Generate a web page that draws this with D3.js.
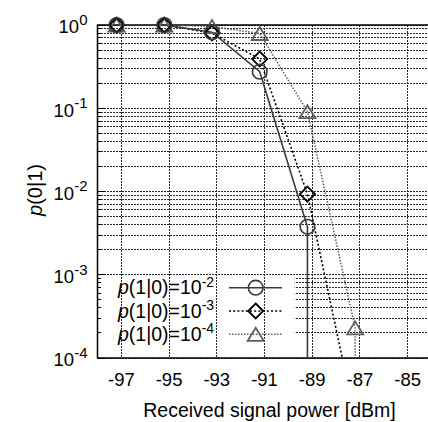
<!DOCTYPE html>
<html>
<head>
<meta charset="utf-8">
<script src="https://cdn.jsdelivr.net/npm/d3@7/dist/d3.min.js"></script>
<style>
  html, body { margin: 0; padding: 0; background: #fff; }
  svg { display: block; font-family: "Liberation Sans", Arial, sans-serif; }
</style>
</head>
<body>
<svg id="chart" width="428" height="422"></svg>
<script>
// received power [dBm] at which each curve was sampled
const powerDbm = [-97.2, -95.2, -93.2, -91.2, -89.2, -87.2];

// p(0|1) for each false-alarm level p(1|0); values below 1e-4 fall off the axis
const pe2 = [1.0, 1.0, 0.82, 0.275, 0.00377];
const pe3 = [1.0, 1.0, 0.80, 0.39, 0.0093, 1.86e-5];
const pe4 = [1.0, 1.0, 0.96, 0.79, 0.091, 0.00023];
// after its last measured point a curve drops straight to zero
const belowAxis = 1e-7;

const xTicks = [-97, -95, -93, -91, -89, -87, -85];
const yExponents = [0, -1, -2, -3, -4];
const legendExponents = ['-2', '-3', '-4'];

const plot = { left: 97.5, top: 25, right: 431.5, bottom: 358 };

const svg = d3.select('#chart');
const x = d3.scaleLinear().domain([-98, -84]).range([plot.left, plot.right]);
const y = d3.scaleLog().domain([1e-4, 1]).range([plot.bottom, plot.top]);

svg.append('defs').append('clipPath').attr('id', 'plotclip')
  .append('rect')
  .attr('x', plot.left).attr('y', plot.top)
  .attr('width', plot.right - plot.left).attr('height', plot.bottom - plot.top);

const gridColor = '#2a2a2a';
const gridDash = '2,1';

// horizontal grid (major + minor decades)
const yGridVals = [];
for (let e = -4; e < 0; e++) {
  for (let m = 1; m < 10; m++) yGridVals.push(m * Math.pow(10, e));
}
yGridVals.push(1);
const isMajor = (d) => Math.abs(Math.log10(d) - Math.round(Math.log10(d))) < 1e-9;

svg.append('g').selectAll('line')
  .data(yGridVals)
  .join('line')
  .attr('x1', plot.left).attr('x2', plot.right)
  .attr('y1', (d) => y(d)).attr('y2', (d) => y(d))
  .attr('stroke', gridColor)
  .attr('stroke-width', 1)
  .attr('stroke-dasharray', gridDash)
  .attr('shape-rendering', 'crispEdges');

// legend box hides the horizontal grid underneath
svg.append('rect')
  .attr('x', plot.left + 1).attr('y', y(9e-4) - 1.5)
  .attr('width', 196).attr('height', plot.bottom - y(9e-4))
  .attr('fill', '#fff');

// ticks on the left axis
svg.append('g').selectAll('line')
  .data(yGridVals)
  .join('line')
  .attr('x1', plot.left).attr('x2', (d) => plot.left + (isMajor(d) ? 7 : 3.5))
  .attr('y1', (d) => y(d)).attr('y2', (d) => y(d))
  .attr('stroke', '#000')
  .attr('stroke-width', 1)
  .attr('shape-rendering', 'crispEdges');

// vertical grid
svg.append('g').selectAll('line')
  .data(xTicks)
  .join('line')
  .attr('x1', (d) => x(d)).attr('x2', (d) => x(d))
  .attr('y1', plot.top).attr('y2', plot.bottom)
  .attr('stroke', gridColor)
  .attr('stroke-width', 1)
  .attr('stroke-dasharray', gridDash)
  .attr('shape-rendering', 'crispEdges');

// frame
svg.append('path')
  .attr('d', `M${plot.right},${plot.top}H${plot.left}V${plot.bottom}H${plot.right}`)
  .attr('fill', 'none')
  .attr('stroke', '#000')
  .attr('stroke-width', 1.5);

// tick labels
svg.append('g')
  .attr('font-size', 18.5)
  .attr('fill', '#000')
  .selectAll('text')
  .data(xTicks)
  .join('text')
  .attr('x', (d) => x(d))
  .attr('y', 385.5)
  .attr('text-anchor', 'middle')
  .text((d) => String(d));

const yLabels = svg.append('g').attr('fill', '#000');
yExponents.forEach((e) => {
  const t = yLabels.append('text')
    .attr('x', 87.5)
    .attr('y', y(Math.pow(10, e)) + 8.3)
    .attr('text-anchor', 'end')
    .attr('font-size', 18.5);
  t.append('tspan').text('10');
  t.append('tspan').attr('dy', -8.5).attr('font-size', 15).text(String(e));
});

// axis titles
const yTitle = svg.append('text')
  .attr('transform', 'translate(42,190) rotate(-90)')
  .attr('text-anchor', 'middle')
  .attr('font-size', 20);
yTitle.append('tspan').attr('font-style', 'italic').text('p');
yTitle.append('tspan').text('(0|1)');

svg.append('text')
  .attr('x', 269.5).attr('y', 417)
  .attr('text-anchor', 'middle')
  .attr('font-size', 19.5)
  .text('Received signal power [dBm]');

// series
const series = [
  { values: pe2, color: '#3a3a3a', dash: null, width: 1.6, marker: 'circle' },
  { values: pe3, color: '#000', dash: '2,2.2', width: 1.6, marker: 'diamond' },
  { values: pe4, color: '#5e5e5e', dash: '1.5,1.5', width: 1.5, marker: 'triangle' }
];

function curvePoints(values) {
  const pts = values.map((v, i) => [powerDbm[i], v]);
  const last = pts[pts.length - 1];
  if (last[1] >= 1e-4) pts.push([last[0], belowAxis]);
  return pts;
}

const line = d3.line().x((d) => x(d[0])).y((d) => y(d[1]));

function markerPath(kind, cx, cy) {
  if (kind === 'diamond') {
    const r = 7.5;
    return `M${cx},${cy - r}L${cx + r},${cy}L${cx},${cy + r}L${cx - r},${cy}Z`;
  }
  const hw = 8, hh = 6.5;
  return `M${cx},${cy - hh}L${cx + hw},${cy + hh}L${cx - hw},${cy + hh}Z`;
}

function drawMarker(g, kind, cx, cy, color) {
  if (kind === 'circle') {
    g.append('circle').attr('cx', cx).attr('cy', cy).attr('r', 7.3)
      .attr('fill', 'none').attr('stroke', color).attr('stroke-width', 1.6);
  } else {
    g.append('path').attr('d', markerPath(kind, cx, cy))
      .attr('fill', 'none').attr('stroke', color).attr('stroke-width', 1.8);
  }
}

const lineG = svg.append('g').attr('clip-path', 'url(#plotclip)');
const markG = svg.append('g');
series.slice().reverse().forEach((s) => {
  lineG.append('path')
    .datum(curvePoints(s.values))
    .attr('d', line)
    .attr('fill', 'none')
    .attr('stroke', s.color)
    .attr('stroke-width', s.width)
    .attr('stroke-dasharray', s.dash);
  s.values.forEach((v, i) => {
    if (v >= 1e-4) drawMarker(markG, s.marker, x(powerDbm[i]), y(v), s.color);
  });
});

// legend
const legendRows = [287.7, 311, 334.3];
const leg = svg.append('g');
series.forEach((s, i) => {
  const ly = legendRows[i];
  const t = leg.append('text')
    .attr('x', 118).attr('y', ly + 6.5)
    .attr('font-size', 19.5)
    .attr('fill', '#000');
  t.append('tspan').attr('font-style', 'italic').text('p');
  t.append('tspan').text('(1|0)=10');
  t.append('tspan').attr('dy', -7.5).attr('font-size', 14).text(legendExponents[i]);

  leg.append('line')
    .attr('x1', 229).attr('x2', 282)
    .attr('y1', ly).attr('y2', ly)
    .attr('stroke', s.color)
    .attr('stroke-width', s.width)
    .attr('stroke-dasharray', s.dash);
  drawMarker(leg, s.marker, 255.7, ly, s.color);
});
</script>
</body>
</html>
